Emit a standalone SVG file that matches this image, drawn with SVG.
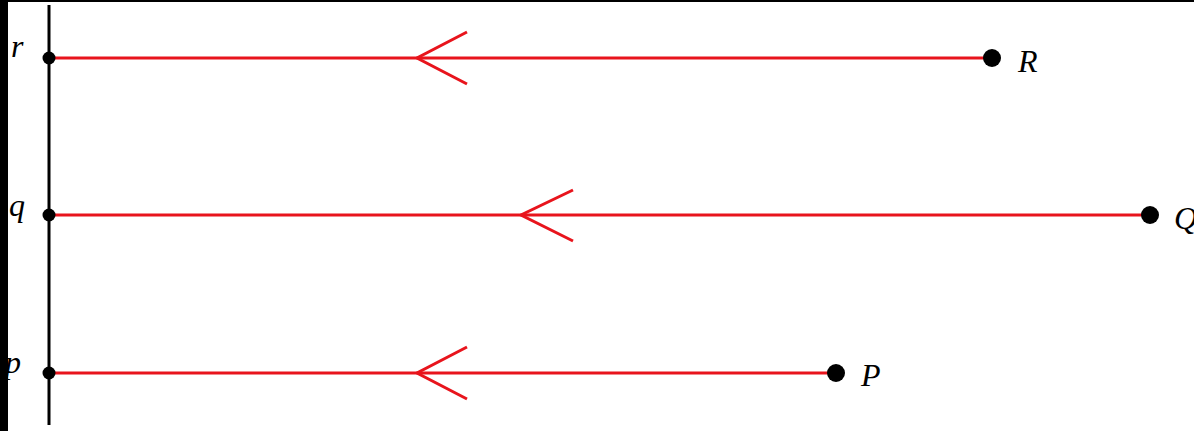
<svg xmlns="http://www.w3.org/2000/svg" width="1194" height="431" viewBox="0 0 1194 431">
<style>
.axis{stroke:#000;stroke-width:3;fill:none}
.ray{stroke:#e8141c;stroke-width:3;fill:none}
.chev{stroke:#e8141c;stroke-width:3;fill:none;stroke-linecap:butt;stroke-linejoin:miter}
.lbl{font-family:"Liberation Serif","Times New Roman",serif;font-style:italic;font-size:32px;fill:#000}
</style>
<rect x="0" y="0" width="1194" height="431" fill="#fff"/>
<g id="axis">
<line class="axis" x1="49" y1="5" x2="49" y2="425"/>
</g>
<g id="connectors">
<line class="ray" x1="50" y1="58" x2="992" y2="58"/>
<polyline class="chev" points="467,32 417,58 467,84"/>
<line class="ray" x1="50" y1="215" x2="1150" y2="215"/>
<polyline class="chev" points="573,190 521,215 573,241"/>
<line class="ray" x1="50" y1="373" x2="836" y2="373"/>
<polyline class="chev" points="467,347 417,373 467,399"/>
</g>
<g id="node-r"><circle cx="49" cy="58" r="6.5"/><text class="lbl" x="11" y="57">r</text></g>
<g id="node-q"><circle cx="49" cy="215" r="6.5"/><text class="lbl" x="9" y="216">q</text></g>
<g id="node-p"><circle cx="49" cy="373" r="6.5"/><text class="lbl" x="5" y="373">p</text></g>
<g id="node-R"><circle cx="992" cy="58" r="9"/><text class="lbl" x="1018" y="72">R</text></g>
<g id="node-Q"><circle cx="1150" cy="215" r="9"/><text class="lbl" x="1174" y="229">Q</text></g>
<g id="node-P"><circle cx="836" cy="373" r="9"/><text class="lbl" x="861" y="386">P</text></g>
<rect x="0" y="0" width="8" height="431" fill="#000"/>
<rect x="0" y="0" width="1194" height="2" fill="#000"/>
</svg>
